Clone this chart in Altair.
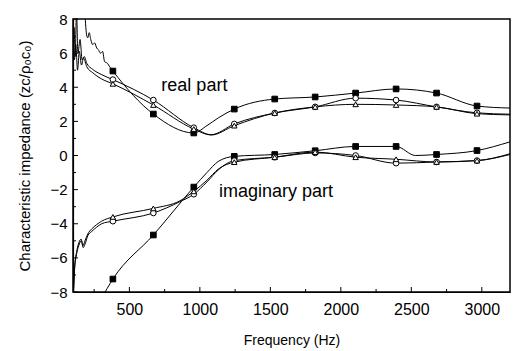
import altair as alt
import pandas as pd

# ---------------- data ----------------
marker_freq = [383, 670, 957, 1244, 1531, 1818, 2105, 2392, 2679, 2966]

# real part
real_sq_mk = [4.95, 2.43, 1.32, 2.72, 3.31, 3.43, 3.66, 3.90, 3.66, 2.90]
real_sq_extra_f = [184, 198, 205, 215, 226, 240, 254, 268, 280, 295, 310, 324, 345, 360, 1050, 1130, 3200]
real_sq_extra_v = [8.4, 7.0, 6.9, 7.2, 6.8, 6.5, 6.6, 6.3, 6.2, 6.0, 6.1, 5.5, 5.4, 5.2, 1.75, 2.2, 2.78]

real_ci_mk = [4.45, 3.25, 1.63, 1.85, 2.49, 2.85, 3.36, 3.25, 2.85, 2.50]
real_ci_extra_f = [100, 108, 115, 125, 135, 150, 165, 180, 198, 240, 300, 1080, 3200]
real_ci_extra_v = [6.3, 7.5, 5.8, 8.4, 6.0, 6.8, 5.6, 5.8, 5.4, 5.05, 4.75, 1.22, 2.42]

real_tr_mk = [4.20, 2.96, 1.55, 1.75, 2.49, 2.85, 3.00, 2.96, 2.85, 2.45]
real_tr_extra_f = [100, 110, 120, 132, 145, 160, 175, 198, 240, 300, 1080, 3200]
real_tr_extra_v = [7.2, 5.6, 6.5, 5.0, 6.1, 5.3, 5.7, 5.2, 4.85, 4.5, 1.20, 2.38]

# imaginary part
imag_sq_mk = [-7.24, -4.66, -1.85, -0.05, 0.06, 0.28, 0.53, 0.53, 0.06, 0.29]
imag_sq_extra_f = [300, 1050, 1130, 2530, 3200]
imag_sq_extra_v = [-8.4, -1.0, -0.35, 0.0, 0.80]

imag_ci_mk = [-3.85, -3.37, -2.27, -0.30, -0.10, 0.15, 0.00, -0.45, -0.38, -0.30]
imag_ci_extra_f = [102, 110, 125, 140, 160, 172, 185, 205, 233, 268, 303, 860, 1050, 1130, 3200]
imag_ci_extra_v = [-8.2, -6.8, -5.8, -5.3, -5.0, -5.4, -5.2, -4.7, -4.45, -4.2, -4.0, -2.7, -1.55, -0.85, 0.06]

imag_tr_mk = [-3.60, -3.10, -2.10, -0.39, -0.10, 0.20, -0.10, -0.22, -0.38, -0.30]
imag_tr_extra_f = [104, 112, 127, 142, 158, 170, 185, 205, 233, 268, 303, 860, 1050, 1130, 3200]
imag_tr_extra_v = [-8.1, -6.5, -5.6, -5.1, -4.9, -5.3, -5.0, -4.6, -4.3, -4.05, -3.85, -2.65, -1.45, -0.8, 0.10]

x_major = [500, 1000, 1500, 2000, 2500, 3000]
x_minor = [250, 750, 1250, 1750, 2250, 2750]
y_major = [-8, -6, -4, -2, 0, 2, 4, 6, 8]
y_minor = [-7, -5, -3, -1, 1, 3, 5, 7]

labels = ["real part", "imaginary part"]
label_f = [961, 1540]
label_v = [3.8, -2.42]

# ---------------- build tables ----------------
series = [
    ("real", "sq", real_sq_mk, real_sq_extra_f, real_sq_extra_v),
    ("real", "ci", real_ci_mk, real_ci_extra_f, real_ci_extra_v),
    ("real", "tr", real_tr_mk, real_tr_extra_f, real_tr_extra_v),
    ("imag", "sq", imag_sq_mk, imag_sq_extra_f, imag_sq_extra_v),
    ("imag", "ci", imag_ci_mk, imag_ci_extra_f, imag_ci_extra_v),
    ("imag", "tr", imag_tr_mk, imag_tr_extra_f, imag_tr_extra_v),
]
line_rows, mk_rows = [], []
for part, kind, mk, ef, ev in series:
    key = part + "_" + kind
    for f, v in zip(marker_freq, mk):
        line_rows.append({"key": key, "freq": f, "value": v})
        mk_rows.append({"key": key, "kind": kind, "freq": f, "value": v})
    for f, v in zip(ef, ev):
        line_rows.append({"key": key, "freq": f, "value": v})
lines_df = pd.DataFrame(line_rows).sort_values(["key", "freq"])
mk_df = pd.DataFrame(mk_rows)

xscale = alt.Scale(domain=[100, 3200], nice=False, zero=False)
yscale = alt.Scale(domain=[-8, 8], nice=False, zero=False)
FONT = "Liberation Sans"

xaxis = alt.Axis(values=x_major, format="d", ticks=False, grid=False, domainColor="black",
                 domainWidth=1.2, labelFontSize=16, labelFont=FONT, labelColor="black",
                 labelPadding=9, title="Frequency (Hz)", titleFont=FONT,
                 titleFontSize=14, titleFontWeight="normal", titleColor="black",
                 titlePadding=16)
yaxis = alt.Axis(values=y_major, format="d", ticks=False, grid=False, domainColor="black",
                 domainWidth=1.2, labelFontSize=15, labelFont=FONT, labelColor="black",
                 labelPadding=6,
                 title="Characteristic impedance (zc/ρ₀c₀)", titleFont=FONT,
                 titleFontSize=15, titleFontWeight="normal", titleColor="black",
                 titlePadding=17)

def X(field):
    return alt.X(field, scale=xscale, axis=xaxis)

def Y(field):
    return alt.Y(field, scale=yscale, axis=yaxis)

base_lines = alt.Chart(lines_df).mark_line(
    color="black", strokeWidth=1, clip=True, interpolate="monotone"
).encode(x=X("freq:Q"), y=Y("value:Q"), detail="key:N")

def mk_layer(kind, shape, filled):
    return alt.Chart(mk_df[mk_df.kind == kind]).mark_point(
        shape=shape, filled=filled, fill="black" if filled else "white",
        stroke="black", strokeWidth=1, size=32 if kind != "tr" else 30, opacity=1, clip=True
    ).encode(x=X("freq:Q"), y=Y("value:Q"))

sq = mk_layer("sq", "square", True)
ci = mk_layer("ci", "circle", False)
tr = mk_layer("tr", "triangle-up", False)

W, H = 437, 273
xt_major = alt.Chart(pd.DataFrame({"freq": x_major})).mark_rule(color="black", strokeWidth=1).encode(
    x=X("freq:Q"), y=alt.value(H), y2=alt.value(H - 5))
xt_minor = alt.Chart(pd.DataFrame({"freq": x_minor})).mark_rule(color="black", strokeWidth=1).encode(
    x=X("freq:Q"), y=alt.value(H), y2=alt.value(H - 3))
yt_major = alt.Chart(pd.DataFrame({"value": y_major})).mark_rule(color="black", strokeWidth=1).encode(
    y=Y("value:Q"), x=alt.value(0), x2=alt.value(5))
yt_minor = alt.Chart(pd.DataFrame({"value": y_minor})).mark_rule(color="black", strokeWidth=1).encode(
    y=Y("value:Q"), x=alt.value(0), x2=alt.value(3))

txt = alt.Chart(pd.DataFrame({"t": labels, "freq": label_f, "value": label_v})).mark_text(
    font=FONT, fontSize=18, color="black", align="center", baseline="alphabetic"
).encode(x=X("freq:Q"), y=Y("value:Q"), text="t:N")

chart = alt.layer(base_lines, sq, ci, tr, xt_major, xt_minor, yt_major, yt_minor, txt).properties(
    width=W, height=H,
    autosize=alt.AutoSizeParams(type="none"),
    padding={"left": 65, "top": 11, "right": 1, "bottom": 60},
    background="white",
).configure_view(stroke="black", strokeWidth=1.5)

chart.save("out.html", embed_options={"renderer": "svg", "actions": False})
